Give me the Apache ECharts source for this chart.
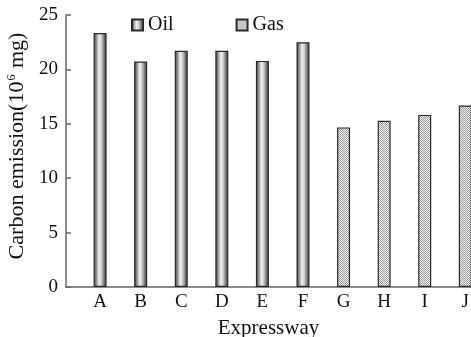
<!DOCTYPE html>
<html><head><meta charset="utf-8">
<script src="https://cdn.jsdelivr.net/npm/echarts@6/dist/echarts.min.js"></script>
<style>html,body{margin:0;padding:0;background:#fff}#c{width:471px;height:337px}</style>
</head><body><div id="c"></div>
<script>
const categories = ['A','B','C','D','E','F','G','H','I','J'];
const oilCategories = ['A','B','C','D','E','F'];
const oilValues = [23.35, 20.72, 21.72, 21.72, 20.78, 22.5];
const gasCategories = ['G','H','I','J'];
const gasValues = [14.67, 15.27, 15.82, 16.68];
const yTicks = [0, 5, 10, 15, 20, 25];

const FONT = 'Liberation Serif';

function checker() {
  const c = document.createElement('canvas');
  c.width = 4; c.height = 4;
  const g = c.getContext('2d');
  g.fillStyle = '#f4f4f4'; g.fillRect(0,0,4,4);
  g.fillStyle = '#9a9a9a';
  g.fillRect(0,0,1,1); g.fillRect(2,0,1,1); g.fillRect(1,1,1,1); g.fillRect(3,1,1,1);
  g.fillRect(0,2,1,1); g.fillRect(2,2,1,1); g.fillRect(1,3,1,1); g.fillRect(3,3,1,1);
  return c;
}
const oilFill = {type:'linear', x:0, y:0, x2:1, y2:0, colorStops:[
  {offset:0, color:'#3a3a3a'}, {offset:0.2, color:'#8a8a8a'}, {offset:0.42, color:'#f2f2f2'},
  {offset:0.6, color:'#cfcfcf'}, {offset:0.8, color:'#7a7a7a'}, {offset:1, color:'#3a3a3a'}]};
const gasFill = {image: checker(), repeat: 'repeat'};

const chart = echarts.init(document.getElementById('c'));
chart.setOption({
  animation: false,
  textStyle: {fontFamily: FONT},
  grid: {left: 66, right: 0, top: 15, bottom: 50, containLabel: false, outerBoundsMode: 'none'},
  legend: {
    left: 126, top: 10, itemGap: 62, itemWidth: 11, itemHeight: 11,
    icon: 'rect',
    textStyle: {fontFamily: FONT, fontSize: 20, color: '#111'},
    data: ['Oil', 'Gas']
  },
  xAxis: {
    type: 'value', min: -0.84, max: 9.14,
    name: 'Expressway', nameLocation: 'middle', nameGap: 31,
    nameTextStyle: {fontFamily: FONT, fontSize: 21, color: '#111', verticalAlign: 'top'},
    axisLine: {show: true, onZero: false, lineStyle: {color: '#666', width: 1.5}},
    axisTick: {show: false},
    splitLine: {show: false},
    axisLabel: {
      customValues: categories.map((c, i) => i),
      formatter: v => categories[Math.round(v)],
      fontFamily: FONT, fontSize: 19, color: '#111', margin: 6
    }
  },
  yAxis: {
    type: 'value', min: 0, max: 25, interval: 5,
    name: '{a|Carbon emission(10}{s|6}{a| mg)}', nameLocation: 'middle', nameGap: 37,
    nameTextStyle: {fontFamily: FONT, padding: [0, 0, 0, 10], rich: {
      a: {fontFamily: FONT, fontSize: 22, color: '#111'},
      s: {fontFamily: FONT, fontSize: 12, color: '#111', verticalAlign: 'top', lineHeight: 12, padding:[0,1,10,1]}
    }},
    axisLine: {show: true, onZero: false, lineStyle: {color: '#666', width: 1.5}},
    axisTick: {show: true, inside: true, length: 5, lineStyle: {color: '#666', width: 1.5}},
    splitLine: {show: false},
    axisLabel: {fontFamily: FONT, fontSize: 19, color: '#111', margin: 8,
      formatter: v => yTicks.includes(v) ? String(v) : ''}
  },
  series: [
    {name: 'Oil', type: 'bar', barWidth: 13, barGap: '-100%',
     data: oilValues.map((v, i) => [categories.indexOf(oilCategories[i]), v]),
     itemStyle: {color: oilFill, borderColor: '#2a2a2a', borderWidth: 1.2}},
    {name: 'Gas', type: 'bar', barWidth: 13, barGap: '-100%',
     data: gasValues.map((v, i) => [categories.indexOf(gasCategories[i]), v]),
     itemStyle: {color: gasFill, borderColor: '#2a2a2a', borderWidth: 1.2}}
  ]
});
</script>
</body></html>
